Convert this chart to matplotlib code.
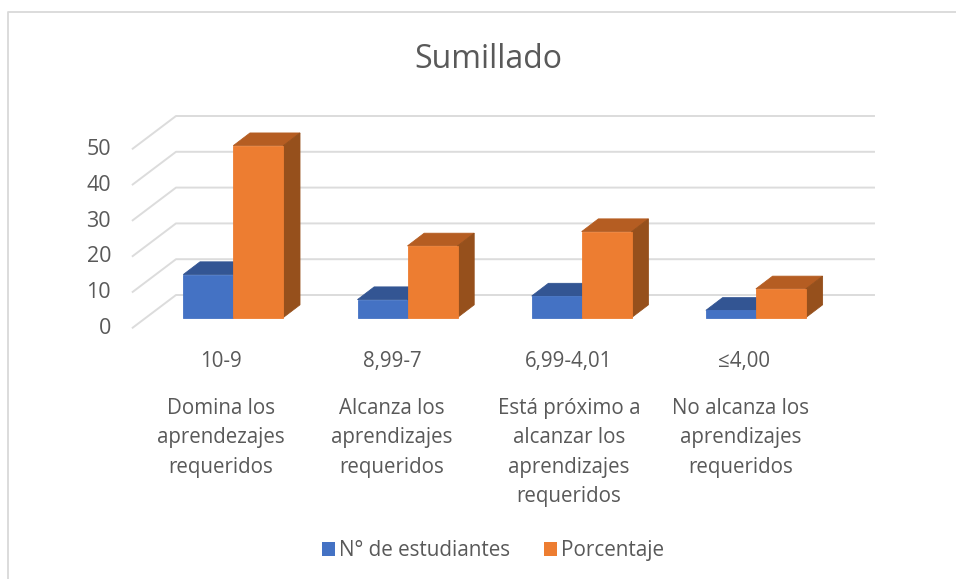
import matplotlib
matplotlib.use('Agg')
import matplotlib.pyplot as plt
from matplotlib.patches import Polygon, Rectangle

rangos = ['10-9', '8,99-7', '6,99-4,01', '≤4,00']
descripciones = ['Domina los\naprendezajes\nrequeridos',
                 'Alcanza los\naprendizajes\nrequeridos',
                 'Está próximo a\nalcanzar los\naprendizajes\nrequeridos',
                 'No alcanza los\naprendizajes\nrequeridos']
estudiantes = [12, 5, 6, 2]
porcentaje = [48, 20, 24, 8]
ticks = [0, 10, 20, 30, 40, 50]

plt.rcParams['font.family'] = ['Open Sans', 'DejaVu Sans']
GRIS = '#595959'

# todo el lienzo es un solo eje: x = indice de categoria, y = valor
W, H = 956, 579
PX_X = 174.2   # pixeles por categoria
PX_Y = 3.58    # pixeles por unidad
X0, Y0 = 233.3, 317.5

# centro en pixeles de los textos de cada categoria
centro_rango = [221, 392, 569, 744]
centro_desc = [221, 392, 569, 741]

fig = plt.figure(figsize=(W / 100, H / 100), dpi=100)
ax = fig.add_axes([0, 0, 1, 1])
ax.set_xlim(-X0 / PX_X, (W - X0) / PX_X)
ax.set_ylim((Y0 - H) / PX_Y, Y0 / PX_Y)
ax.axis('off')


def px(n):
    return n / PX_X


def py(n):
    return n / PX_Y


def barra(x, valor, col, col_top, col_lado):
    ancho = px(50)
    dx, dy = px(16.7), py(12.7)
    borde = dict(linewidth=0.6, zorder=3 + x)
    ax.add_patch(Polygon([(x, valor), (x + ancho, valor), (x + ancho + dx, valor + dy), (x + dx, valor + dy)],
                         facecolor=col_top, edgecolor=col_top, **borde))
    ax.add_patch(Polygon([(x + ancho, 0), (x + ancho + dx, dy), (x + ancho + dx, valor + dy), (x + ancho, valor)],
                         facecolor=col_lado, edgecolor=col_lado, **borde))
    ax.add_patch(Rectangle((x, 0), ancho, valor, facecolor=col, edgecolor=col, **borde))


# marco
ax.plot([px(8 - X0), px(8 - X0), px(W - X0)], [py(Y0 - 579), py(Y0 - 12), py(Y0 - 12)],
        color='#d9d9d9', lw=1.3, zorder=1)

# rejilla
for t in ticks:
    ax.plot([px(132.7 - X0), px(176 - X0), px(874 - X0)],
            [t + py(-10.2), t + py(22.5), t + py(22.5)], color='#dcdcdc', lw=1.4, zorder=1)
    ax.text(px(111 - X0), t + py(-11), str(t), ha='right', va='center', fontsize=15.5, color=GRIS)

for i in range(len(rangos)):
    barra(i - px(50), estudiantes[i], '#4472c4', '#335593', '#2f5597')
    barra(i, porcentaje[i], '#ed7d31', '#b55d22', '#96501c')
    ax.text(px(centro_rango[i] - X0), py(Y0 - 351), rangos[i], ha='center', va='top', fontsize=14.8, color=GRIS)
    ax.text(px(centro_desc[i] - X0), py(Y0 - 398), descripciones[i], ha='center', va='top',
            fontsize=14.8, color=GRIS, linespacing=1.52)

ax.text(px(488 - X0), py(Y0 - 60), 'Sumillado', ha='center', va='center', fontsize=23, color=GRIS)

# leyenda
ax.add_patch(Rectangle((px(321.5 - X0), py(Y0 - 556)), px(13.5), py(14), facecolor='#4472c4'))
ax.text(px(339 - X0), py(Y0 - 550.5), 'N° de estudiantes', va='center', fontsize=14.9, color=GRIS)
ax.add_patch(Rectangle((px(543.5 - X0), py(Y0 - 556)), px(13.5), py(14), facecolor='#ed7d31'))
ax.text(px(561 - X0), py(Y0 - 550.5), 'Porcentaje', va='center', fontsize=14.9, color=GRIS)

fig.savefig('out.png', dpi=100)
